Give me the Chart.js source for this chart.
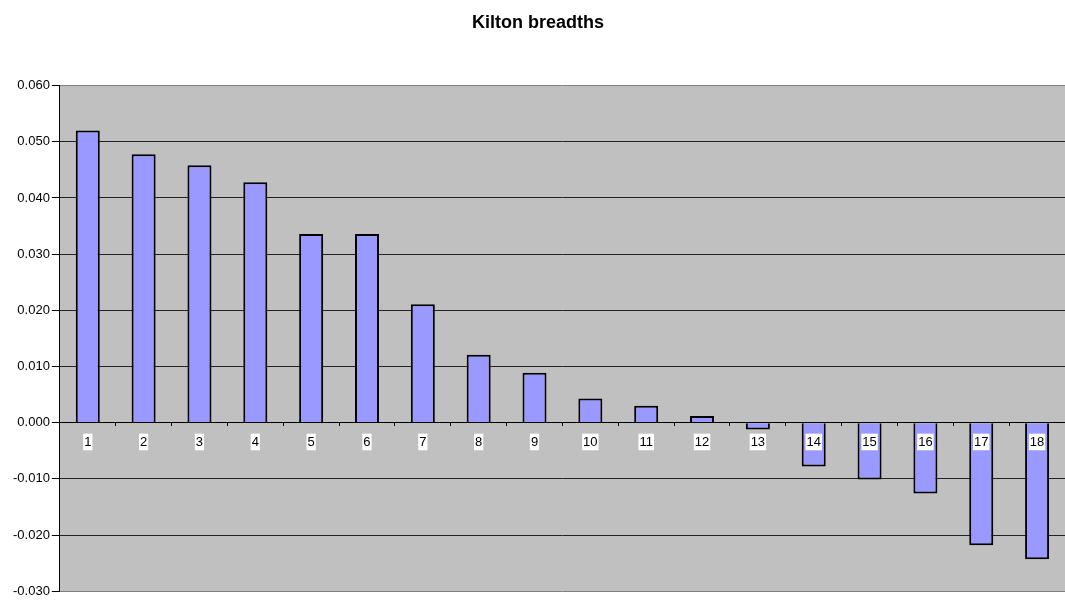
<!DOCTYPE html>
<html>
<head>
<meta charset="utf-8">
<script src="https://cdn.jsdelivr.net/npm/chart.js@4"></script>
<style>
  html, body { margin: 0; padding: 0; background: #fff; }
  #wrap { width: 1065px; height: 601px; }
</style>
</head>
<body>
<div id="wrap"><canvas id="kilton"></canvas></div>
<script>
var categories = ['1','2','3','4','5','6','7','8','9','10','11','12','13','14','15','16','17','18'];
var breadths = [0.0520, 0.0478, 0.0458, 0.0428, 0.0336, 0.0336, 0.0211, 0.0121, 0.0089,
                0.0043, 0.0030, 0.0012, -0.0012, -0.0078, -0.0101, -0.0126, -0.0218, -0.0243];
var yTicks = [-0.03, -0.02, -0.01, 0, 0.01, 0.02, 0.03, 0.04, 0.05, 0.06];

// grey plot area like the old excel charts
var plotBg = {
    id: 'plotBg',
    beforeDraw: function(chart) {
        var a = chart.chartArea, c = chart.ctx;
        c.save();
        c.fillStyle = '#c0c0c0';
        c.fillRect(a.left, a.top, a.right - a.left, a.bottom - a.top);
        c.restore();
    }
};

var ctx = document.getElementById('kilton').getContext('2d');
var myChart = new Chart(ctx, {
    type: 'bar',
    data: {
        labels: categories,
        datasets: [{
            label: 'Kilton breadths',
            data: breadths,
            backgroundColor: '#9999ff',
            borderColor: '#000000',
            borderWidth: 2,
            barPercentage: 0.43,
            categoryPercentage: 1
        }]
    },
    options: {
        responsive: true,
        maintainAspectRatio: false,
        animation: false,
        layout: { padding: { left: 11, right: 0, top: 0, bottom: 6 } },
        plugins: {
            legend: { display: false },
            tooltip: { enabled: false },
            title: {
                display: true,
                text: 'Kilton breadths',
                color: '#000',
                font: { family: 'Liberation Sans, Arial', size: 18, weight: 'bold' },
                padding: { top: 12, bottom: 52 }
            }
        },
        scales: {
            x: {
                position: { y: 0 },
                grid: { offset: true, drawOnChartArea: false, drawTicks: true, tickLength: 3, color: '#000', z: 1 },
                border: { color: '#000', width: 1, z: 1 },
                ticks: {
                    z: 1,
                    color: '#000',
                    font: { family: 'Liberation Sans, Arial', size: 13 },
                    showLabelBackdrop: true,
                    backdropColor: '#ffffff',
                    backdropPadding: { left: 1, right: 1, top: 1, bottom: 0 },
                    padding: 9,
                    maxRotation: 0
                }
            },
            y: {
                min: -0.03,
                max: 0.06,
                afterBuildTicks: function(axis) {
                    axis.ticks = yTicks.map(function(v) { return { value: v }; });
                },
                grid: {
                    color: function(c) {
                        return (c.index === 0 || c.index === yTicks.length - 1) ? '#808080' : '#222';
                    },
                    tickColor: '#000',
                    lineWidth: 1,
                    drawTicks: true,
                    tickLength: 8
                },
                border: { color: '#000', width: 1 },
                ticks: {
                    color: '#000',
                    font: { family: 'Liberation Sans, Arial', size: 13 },
                    padding: 2,
                    callback: function(v) { return v.toFixed(3); }
                }
            }
        }
    },
    plugins: [plotBg]
});
</script>
</body>
</html>
